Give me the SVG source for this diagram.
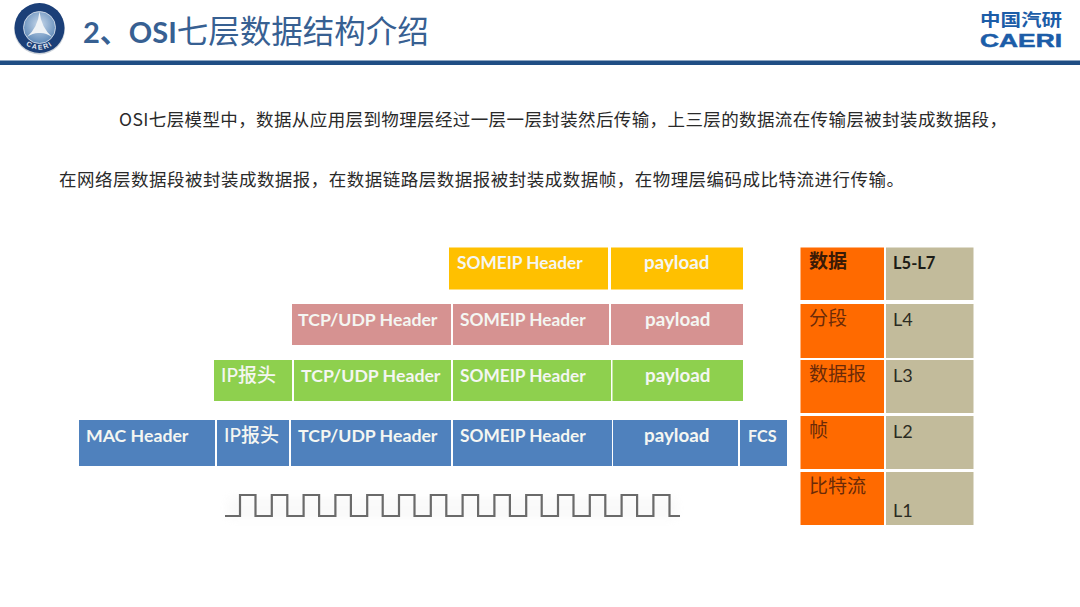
<svg xmlns="http://www.w3.org/2000/svg" width="1080" height="607" viewBox="0 0 1080 607">
<defs>
<filter id="soft" x="-10%" y="-10%" width="120%" height="120%"><feGaussianBlur stdDeviation="0.5"/></filter>
<filter id="haze" x="-10%" y="-60%" width="120%" height="220%"><feGaussianBlur stdDeviation="5"/></filter>
<path id="rimB" d="M18 28 A21.500 21.500 0 0 0 61 28"/>
<radialGradient id="disc" cx="50%" cy="40%" r="60%"><stop offset="0" stop-color="#c8d8ea"/><stop offset="1" stop-color="#5d88b8"/></radialGradient>
</defs>
<style>
.cell{font-family:"Lato","Noto Sans CJK SC",sans-serif;font-weight:700;font-size:17.700px;fill:#f4f6f2}
.some{font-size:17.300px}
.pay{font-size:18.800px}
.fcs{font-size:16.200px}
.ip{font-size:19px;font-weight:500}
.body{font-family:"Noto Sans CJK SC","Liberation Sans",sans-serif;font-size:17.500px;fill:#2a2a2a}
.side{font-family:"Noto Sans CJK SC",sans-serif;font-size:19px;fill:#6b2a08}
.lv{font-family:"Lato",sans-serif;font-size:18px;fill:#2b2b22}
.y{fill:#ffc000}.p{fill:#d69291}.g{fill:#8ed04e}.b{fill:#4f81bd}.o{fill:#ff6a00}.t{fill:#c2bb9b}
</style>
<rect width="1080" height="607" fill="#fff"/>
<g id="header">
<rect x="0" y="60.500" width="1080" height="4.500" fill="#1f4e84"/>
<text x="83" y="43" font-family="'Lato','Noto Sans CJK SC',sans-serif" font-weight="700" font-size="29" fill="#376092">2、OSI<tspan font-family="'Noto Sans CJK SC',sans-serif" font-weight="400" font-size="31.500">七层数据结构介绍</tspan></text>
</g>
<g id="logo-left">
<circle cx="39.500" cy="29" r="25.500" fill="#9aa6b5" opacity="0.5" filter="url(#soft)"/>
<circle cx="39.500" cy="28" r="25" fill="#1b3f78"/>
<circle cx="39.500" cy="27.500" r="16" fill="url(#disc)" stroke="#e3e9f0" stroke-width="0.800"/>
<path d="M39.500 11.500 Q38 27 27 37 Q33 33 38 33 H41 Q46 33 52 37 Q41 27 39.500 11.500Z" fill="#eef2f6" filter="url(#soft)"/>
<text font-family="'Liberation Sans',sans-serif" font-size="7" font-weight="700" fill="#e6ebf2" text-anchor="middle" letter-spacing="1.500"><textPath href="#rimB" startOffset="50%">CAERI</textPath></text>
</g>
<g id="logo-right" font-family="'Noto Sans CJK SC','Liberation Sans',sans-serif" fill="#1c5da8" font-weight="700">
<text x="980" y="26" font-size="17" textLength="82" lengthAdjust="spacingAndGlyphs">中国汽研</text>
<text x="980" y="47" font-family="'Liberation Sans',sans-serif" font-weight="700" font-size="19" stroke="#1c5da8" stroke-width="0.500" textLength="82" lengthAdjust="spacingAndGlyphs">CAERI</text>
</g>
<g id="intro">
<text class="body" x="119" y="125.500" textLength="888" lengthAdjust="spacing">OSI七层模型中，数据从应用层到物理层经过一层一层封装然后传输，上三层的数据流在传输层被封装成数据段，</text>
<text class="body" x="59" y="185.500" textLength="845" lengthAdjust="spacing">在网络层数据段被封装成数据报，在数据链路层数据报被封装成数据帧，在物理层编码成比特流进行传输。</text>
</g>
<g id="row-1">
<rect class="y" x="449" y="247.500" width="159" height="42"/><text class="cell some" x="457" y="269">SOMEIP Header</text>
<rect class="y" x="611" y="247.500" width="132" height="42"/><text class="cell pay" x="644" y="269">payload</text>
</g>
<g id="row-2">
<rect class="p" x="292" y="304" width="159" height="41"/><text class="cell" x="298" y="325.500">TCP/UDP Header</text>
<rect class="p" x="453" y="304" width="156" height="41"/><text class="cell some" x="460" y="325.500">SOMEIP Header</text>
<rect class="p" x="611" y="304" width="132" height="41"/><text class="cell pay" x="645" y="325.500">payload</text>
</g>
<g id="row-3">
<rect class="g" x="214" y="360" width="78" height="41"/><text class="cell ip" x="221" y="381.500">IP报头</text>
<rect class="g" x="294" y="360" width="157" height="41"/><text class="cell" x="301" y="381.500">TCP/UDP Header</text>
<rect class="g" x="453" y="360" width="158" height="41"/><text class="cell some" x="460" y="381.500">SOMEIP Header</text>
<rect class="g" x="612.500" y="360" width="130.500" height="41"/><text class="cell pay" x="645" y="381.500">payload</text>
</g>
<g id="row-4">
<rect class="b" x="79" y="420" width="136" height="46"/><text class="cell" x="86" y="441.500">MAC Header</text>
<rect class="b" x="217" y="420" width="72" height="46"/><text class="cell ip" x="224" y="441.500">IP报头</text>
<rect class="b" x="291" y="420" width="160" height="46"/><text class="cell" x="298" y="441.500">TCP/UDP Header</text>
<rect class="b" x="453" y="420" width="159" height="46"/><text class="cell some" x="460" y="441.500">SOMEIP Header</text>
<rect class="b" x="613" y="420" width="125" height="46"/><text class="cell pay" x="644" y="441.500">payload</text>
<rect class="b" x="740" y="420" width="47" height="46"/><text class="cell fcs" x="748" y="441.500">FCS</text>
</g>
<g id="bitstream">
<rect x="228" y="498" width="448" height="20" fill="#eeeeee" opacity="0.350" filter="url(#haze)"/>
<path id="wave" fill="none" stroke="#6a6a6a" stroke-width="2.200" filter="url(#soft)" d="M225 516H240V495H255.500V516H271.800V495H287.300V516H303.600V495H319.100V516H335.400V495H350.900V516H367.200V495H382.700V516H399V495H414.500V516H430.800V495H446.300V516H462.600V495H478.100V516H494.400V495H509.900V516H526.200V495H541.700V516H558V495H573.500V516H589.800V495H605.300V516H621.600V495H637.100V516H653.400V495H669.500V516H680"/>
</g>
<g id="table">
<g id="t-l57"><rect class="o" x="800.500" y="247.500" width="83.500" height="52.500"/><rect class="t" x="886" y="247.500" width="87.500" height="52.500"/>
<text class="side" x="809" y="268" font-weight="700" style="fill:#3a1a06">数据</text><text class="lv" x="893" y="269" font-weight="700" style="fill:#1c1c16;font-size:16.500px">L5-L7</text></g>
<g id="t-l4"><rect class="o" x="800.500" y="304" width="83.500" height="54"/><rect class="t" x="886" y="304" width="87.500" height="54"/>
<text class="side" x="809" y="325">分段</text><text class="lv" x="893" y="326">L4</text></g>
<g id="t-l3"><rect class="o" x="800.500" y="360" width="83.500" height="53"/><rect class="t" x="886" y="360" width="87.500" height="53"/>
<text class="side" x="809" y="381">数据报</text><text class="lv" x="893" y="382">L3</text></g>
<g id="t-l2"><rect class="o" x="800.500" y="416" width="83.500" height="53"/><rect class="t" x="886" y="416" width="87.500" height="53"/>
<text class="side" x="809" y="437">帧</text><text class="lv" x="893" y="438">L2</text></g>
<g id="t-l1"><rect class="o" x="800.500" y="472" width="83.500" height="53"/><rect class="t" x="886" y="472" width="87.500" height="53"/>
<text class="side" x="809" y="493">比特流</text><text class="lv" x="893" y="517">L1</text></g>
</g>
</svg>
